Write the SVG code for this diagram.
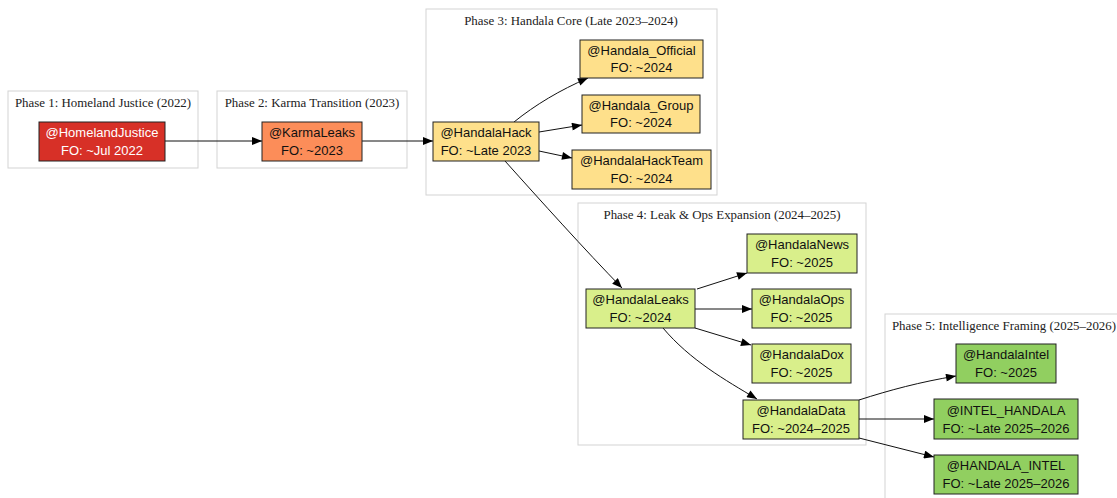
<svg xmlns="http://www.w3.org/2000/svg" width="1117" height="498" viewBox="0 0 1117 498">
<defs>
<style>
.cl{fill:#fff;stroke:#d3d3d3;stroke-width:1}
.ct{font-family:"Liberation Serif",serif;font-size:12.9px;fill:#222;text-anchor:middle}
.n rect{stroke:#222;stroke-width:1}
.n text{font-family:"Liberation Sans",Arial,sans-serif;font-size:13px;fill:#111;text-anchor:middle}
.p1 rect{fill:#d73027}.p1 text{fill:#fff}
.p2 rect{fill:#fc8d59}
.p3 rect{fill:#fee08b}
.p4 rect{fill:#d9ef8b}
.p5 rect{fill:#91cf60}
.e path{fill:none;stroke:#111;stroke-width:1}
</style>
<marker id="ah" viewBox="0 0 10 8" refX="10" refY="4" markerWidth="11" markerHeight="8" markerUnits="userSpaceOnUse" orient="auto"><path d="M0,0L10,4L0,8Z" fill="#000"/></marker>
</defs>
<rect width="1117" height="498" fill="#fff"/>
<g id="clusters">
<rect class="cl" x="8" y="91" width="190" height="77"/>
<text class="ct" x="103" y="107">Phase 1: Homeland Justice (2022)</text>
<rect class="cl" x="217" y="91" width="190" height="77"/>
<text class="ct" x="312" y="107">Phase 2: Karma Transition (2023)</text>
<rect class="cl" x="426" y="9" width="291" height="186"/>
<text class="ct" x="571" y="25">Phase 3: Handala Core (Late 2023–2024)</text>
<rect class="cl" x="578" y="203" width="288" height="242"/>
<text class="ct" x="722" y="219">Phase 4: Leak &amp; Ops Expansion (2024–2025)</text>
<rect class="cl" x="885" y="314" width="240" height="190"/>
<text class="ct" x="1004" y="330">Phase 5: Intelligence Framing (2025–2026)</text>
</g>
<g id="edges" class="e">
<path d="M165,141L262,141" marker-end="url(#ah)"/>
<path d="M362,141L433,141" marker-end="url(#ah)"/>
<path d="M514,122C535,105 560,90 588,78" marker-end="url(#ah)"/>
<path d="M539,132L582,125" marker-end="url(#ah)"/>
<path d="M539,151L572,158" marker-end="url(#ah)"/>
<path d="M505,161C540,200 585,250 622,288" marker-end="url(#ah)"/>
<path d="M697,289L747,273" marker-end="url(#ah)"/>
<path d="M695,309L752,309" marker-end="url(#ah)"/>
<path d="M695,328L751,345" marker-end="url(#ah)"/>
<path d="M663,328C690,360 725,380 757,399" marker-end="url(#ah)"/>
<path d="M859,400C890,390 920,382 956,376" marker-end="url(#ah)"/>
<path d="M859,419L934,419" marker-end="url(#ah)"/>
<path d="M859,438L934,457" marker-end="url(#ah)"/>
</g>
<g id="HomelandJustice" class="n p1"><rect x="39" y="122" width="126" height="39"/><text x="102" y="137">@HomelandJustice</text><text x="102" y="155">FO: ~Jul 2022</text></g>
<g id="KarmaLeaks" class="n p2"><rect x="262" y="122" width="100" height="39"/><text x="312" y="137">@KarmaLeaks</text><text x="312" y="155">FO: ~2023</text></g>
<g id="HandalaHack" class="n p3"><rect x="433" y="122" width="106" height="39"/><text x="486" y="137">@HandalaHack</text><text x="486" y="155">FO: ~Late 2023</text></g>
<g id="Handala_Official" class="n p3"><rect x="580" y="40" width="123" height="38"/><text x="641.5" y="55">@Handala_Official</text><text x="641.5" y="72">FO: ~2024</text></g>
<g id="Handala_Group" class="n p3"><rect x="582" y="95" width="118" height="38"/><text x="641" y="110">@Handala_Group</text><text x="641" y="127">FO: ~2024</text></g>
<g id="HandalaHackTeam" class="n p3"><rect x="572" y="150" width="139" height="39"/><text x="641.5" y="165">@HandalaHackTeam</text><text x="641.5" y="183">FO: ~2024</text></g>
<g id="HandalaLeaks" class="n p4"><rect x="586" y="289" width="109" height="39"/><text x="640.5" y="304">@HandalaLeaks</text><text x="640.5" y="322">FO: ~2024</text></g>
<g id="HandalaNews" class="n p4"><rect x="747" y="234" width="110" height="39"/><text x="802" y="249">@HandalaNews</text><text x="802" y="267">FO: ~2025</text></g>
<g id="HandalaOps" class="n p4"><rect x="752" y="289" width="99" height="39"/><text x="801.5" y="304">@HandalaOps</text><text x="801.5" y="322">FO: ~2025</text></g>
<g id="HandalaDox" class="n p4"><rect x="752" y="344" width="99" height="39"/><text x="801.5" y="359">@HandalaDox</text><text x="801.5" y="377">FO: ~2025</text></g>
<g id="HandalaData" class="n p4"><rect x="743" y="400" width="116" height="39"/><text x="801" y="415">@HandalaData</text><text x="801" y="433">FO: ~2024–2025</text></g>
<g id="HandalaIntel" class="n p5"><rect x="956" y="344" width="100" height="39"/><text x="1006" y="359">@HandalaIntel</text><text x="1006" y="377">FO: ~2025</text></g>
<g id="INTEL_HANDALA" class="n p5"><rect x="934" y="399" width="144" height="40"/><text x="1006" y="415">@INTEL_HANDALA</text><text x="1006" y="433">FO: ~Late 2025–2026</text></g>
<g id="HANDALA_INTEL" class="n p5"><rect x="934" y="455" width="144" height="39"/><text x="1006" y="470">@HANDALA_INTEL</text><text x="1006" y="488">FO: ~Late 2025–2026</text></g>
</svg>
